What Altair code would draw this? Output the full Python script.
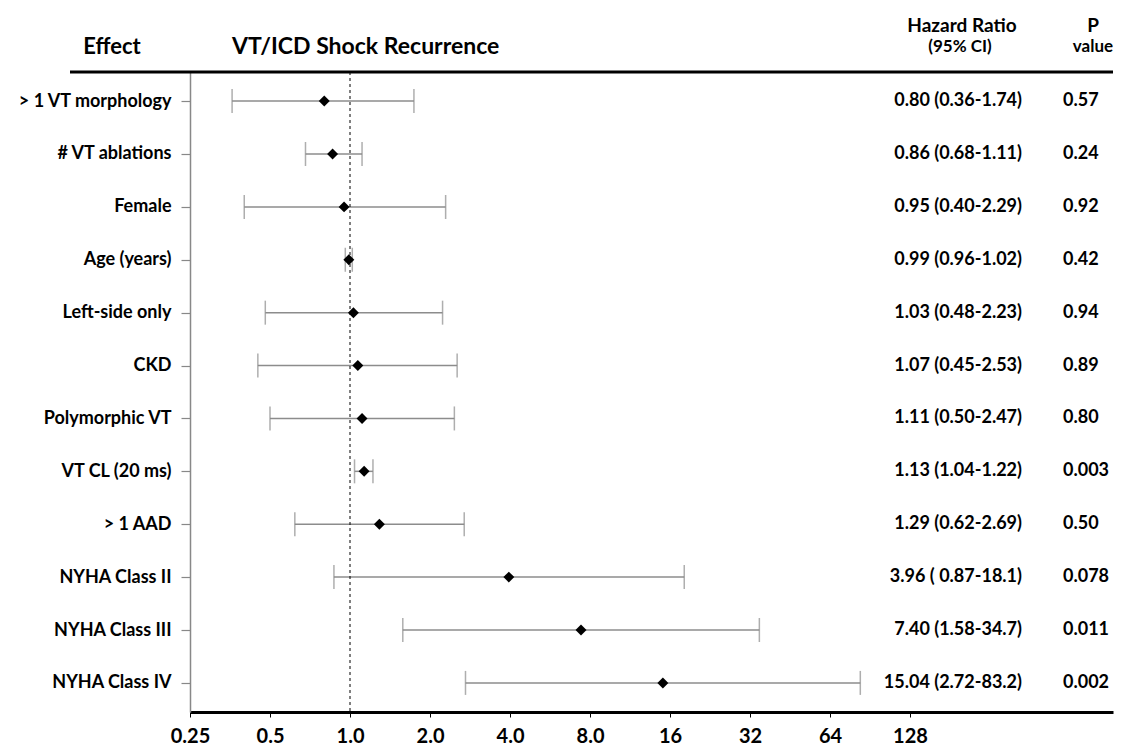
import altair as alt
import pandas as pd

effects = ["> 1 VT morphology", "# VT ablations", "Female", "Age (years)", "Left-side only",
           "CKD", "Polymorphic VT", "VT CL (20 ms)", "> 1 AAD", "NYHA Class II",
           "NYHA Class III", "NYHA Class IV"]
hr = [0.80, 0.86, 0.95, 0.99, 1.03, 1.07, 1.11, 1.13, 1.29, 3.96, 7.40, 15.04]
lo = [0.36, 0.68, 0.40, 0.96, 0.48, 0.45, 0.50, 1.04, 0.62, 0.87, 1.58, 2.72]
hi = [1.74, 1.11, 2.29, 1.02, 2.23, 2.53, 2.47, 1.22, 2.69, 18.1, 34.7, 83.2]
hr_text = ["0.80 (0.36-1.74)", "0.86 (0.68-1.11)", "0.95 (0.40-2.29)", "0.99 (0.96-1.02)",
           "1.03 (0.48-2.23)", "1.07 (0.45-2.53)", "1.11 (0.50-2.47)", "1.13 (1.04-1.22)",
           "1.29 (0.62-2.69)", "3.96 ( 0.87-18.1)", "7.40 (1.58-34.7)", "15.04 (2.72-83.2)"]
p_text = ["0.57", "0.24", "0.92", "0.42", "0.94", "0.89", "0.80", "0.003", "0.50", "0.078",
          "0.011", "0.002"]
tick_values = [0.25, 0.5, 1, 2, 4, 8, 16, 32, 64, 128]

FONT = "Lato"
W, H = 923, 640

df = pd.DataFrame({"effect": effects, "hr": hr, "lo": lo, "hi": hi,
                   "hr_text": hr_text, "p_text": p_text})

xscale = alt.Scale(type="log", base=2, domain=[0.25, 743], nice=False)
yenc = alt.Y("effect:N", sort=effects,
             scale=alt.Scale(type="point", padding=0.55),
             axis=alt.Axis(title=None, labelFont=FONT, labelFontWeight="bold",
                           labelFontSize=18, labelColor="black", tickColor="#888888",
                           tickSize=9, labelPadding=10, domainColor="#888888",
                           domainWidth=1.5, tickWidth=1.2))

base = alt.Chart(df)

xaxis = alt.Axis(title=None, values=tick_values, grid=False,
                 labelExpr="datum.value < 0.3 ? '0.25' : datum.value < 1 ? '0.5' : datum.value < 16 ? format(datum.value, '.1f') : format(datum.value, 'd')",
                 labelFont=FONT, labelFontWeight="bold", labelFontSize=20, labelColor="black",
                 domainColor="black", domainWidth=3, tickColor="black", tickSize=5,
                 labelPadding=9, labelFlush=False)

bars = base.mark_rule(color="#8c8c8c", strokeWidth=1.5).encode(
    x=alt.X("lo:Q", scale=xscale, axis=xaxis), x2="hi:Q", y=yenc)

caps = base.transform_fold(["lo", "hi"], as_=["end", "val"]).mark_tick(
    color="#8c8c8c", thickness=1.5, size=24).encode(
    x=alt.X("val:Q", scale=xscale), y=alt.Y("effect:N", sort=effects))

points = base.mark_point(shape="diamond", filled=True, color="black", size=120, opacity=1).encode(
    x=alt.X("hr:Q", scale=xscale), y=alt.Y("effect:N", sort=effects))

ref = alt.Chart(pd.DataFrame({"v": [1]})).mark_rule(
    color="black", strokeWidth=1, strokeDash=[3, 3]).encode(
    x=alt.X("v:Q", scale=xscale), y=alt.value(0), y2=alt.value(H))

hr_col = base.mark_text(align="right", baseline="middle", font=FONT, fontWeight="bold",
                        fontSize=18, color="black").encode(
    x=alt.value(832), y=alt.Y("effect:N", sort=effects), text="hr_text:N")

p_col = base.mark_text(align="left", baseline="middle", font=FONT, fontWeight="bold",
                       fontSize=18, color="black").encode(
    x=alt.value(873), y=alt.Y("effect:N", sort=effects), text="p_text:N")

top_line = alt.Chart(pd.DataFrame({"a": [0]})).mark_rule(color="black", strokeWidth=3).encode(
    x=alt.value(-120), x2=alt.value(W), y=alt.value(0))

header_texts = ["Effect", "VT/ICD Shock Recurrence", "Hazard Ratio", "(95% CI)", "P", "value"]
hdf = pd.DataFrame({"t": header_texts})


def header(i, x, y, size, align="center"):
    return alt.Chart(hdf).transform_filter(f"datum.t == '{header_texts[i]}'").mark_text(
        align=align, baseline="middle", font=FONT, fontWeight="bold", fontSize=size,
        color="black").encode(x=alt.value(x), y=alt.value(y), text="t:N")


headers = [
    header(0, -78, -25, 22),
    header(1, 42, -25, 23, "left"),
    header(2, 772, -46, 19),
    header(3, 770, -25, 17),
    header(4, 903, -46, 19),
    header(5, 903, -25, 17),
]

chart = alt.layer(bars, caps, ref, points, hr_col, p_col, top_line, *headers).properties(
    width=W, height=H,
    autosize=alt.AutoSizeParams(type="none"),
    padding={"left": 190, "top": 72, "right": 16, "bottom": 40},
    background="white",
).configure_view(stroke=None)

chart.save("out.html", embed_options={"renderer": "svg", "actions": False})
